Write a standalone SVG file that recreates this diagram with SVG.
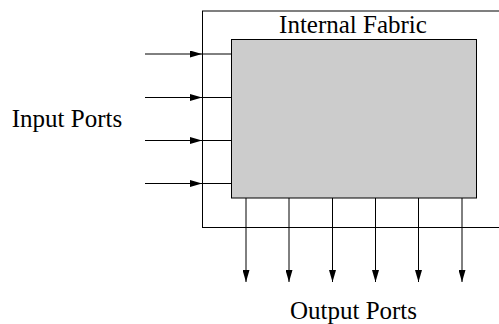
<svg xmlns="http://www.w3.org/2000/svg" width="499" height="324" viewBox="0 0 499 324">
<defs>
<style>
.ln{stroke:#000;stroke-width:1;fill:none}
.lbl{font-family:"Liberation Serif","Times New Roman",serif;font-size:25px;fill:#000;text-anchor:middle}
</style>
<marker id="ah" viewBox="0 0 12 7" refX="12" refY="3.5" markerWidth="12" markerHeight="7" markerUnits="userSpaceOnUse" orient="auto">
<path d="M0,0 L12,3.5 L0,7 Z" fill="#000"/>
</marker>
</defs>
<rect width="499" height="324" fill="#fff"/>
<g id="outer">
<rect x="202.5" y="11" width="310" height="216.5" class="ln" stroke="#333"/>
<text x="353" y="33" class="lbl">Internal Fabric</text>
</g>
<g id="fabric">
<rect x="231.5" y="39.5" width="245" height="158.5" fill="#cccccc" stroke="#000" stroke-width="1"/>
</g>
<g id="connectors">
<line x1="145" y1="54" x2="202" y2="54" class="ln" marker-end="url(#ah)"/>
<line x1="145" y1="97.5" x2="202" y2="97.5" class="ln" marker-end="url(#ah)"/>
<line x1="145" y1="140.5" x2="202" y2="140.5" class="ln" marker-end="url(#ah)"/>
<line x1="145" y1="183.5" x2="202" y2="183.5" class="ln" marker-end="url(#ah)"/>
<line x1="203" y1="54" x2="231.5" y2="54" class="ln"/>
<line x1="203" y1="97.5" x2="231.5" y2="97.5" class="ln"/>
<line x1="203" y1="140.5" x2="231.5" y2="140.5" class="ln"/>
<line x1="203" y1="183.5" x2="231.5" y2="183.5" class="ln"/>
<line x1="246" y1="198" x2="246" y2="282" class="ln" marker-end="url(#ah)"/>
<line x1="289" y1="198" x2="289" y2="282" class="ln" marker-end="url(#ah)"/>
<line x1="332.5" y1="198" x2="332.5" y2="282" class="ln" marker-end="url(#ah)"/>
<line x1="375.5" y1="198" x2="375.5" y2="282" class="ln" marker-end="url(#ah)"/>
<line x1="418.5" y1="198" x2="418.5" y2="282" class="ln" marker-end="url(#ah)"/>
<line x1="462" y1="198" x2="462" y2="282" class="ln" marker-end="url(#ah)"/>
</g>
<g id="input-label">
<text x="67" y="127" class="lbl">Input Ports</text>
</g>
<g id="output-label">
<text x="353.5" y="319" class="lbl">Output Ports</text>
</g>
</svg>
